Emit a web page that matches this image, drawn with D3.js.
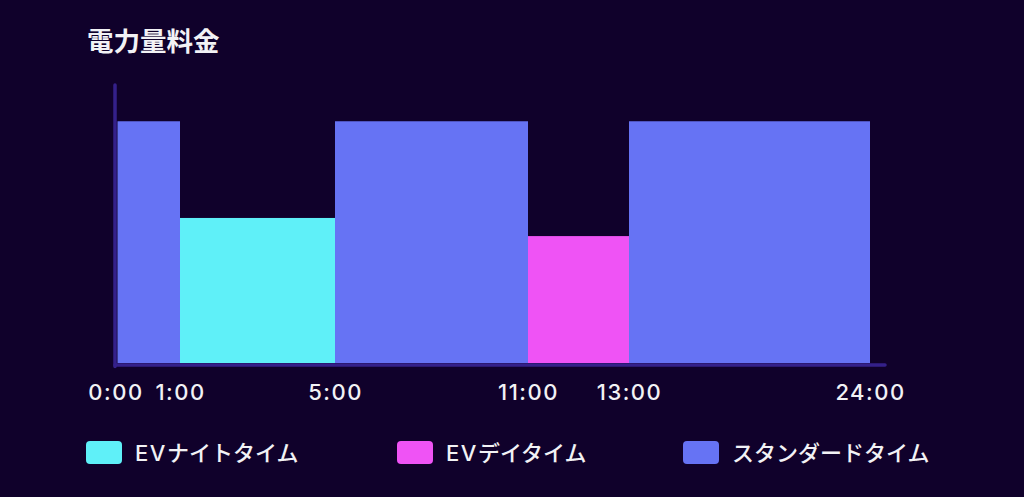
<!DOCTYPE html>
<html><head><meta charset="utf-8">
<script src="https://cdn.jsdelivr.net/npm/d3@7"></script>
<style>
html,body{margin:0;padding:0;background:#10012b;}
svg{display:block;}
</style></head>
<body>
<svg id="c" width="1024" height="497"></svg>
<script>
// ---- data ----
const title = "電力量料金";
const breakpoints = [0, 1, 5, 11, 13, 24];          // hours
const tickLabels = ["0:00", "1:00", "5:00", "11:00", "13:00", "24:00"];
const segStart = [0, 1, 5, 11, 13];
const segEnd   = [1, 5, 11, 13, 24];
const segType  = ["standard", "night", "standard", "day", "standard"];
const segValue = [100, 60, 100, 52.5, 100];        // relative price level
const legendKeys = ["night", "day", "standard"];
const legendPrefix = ["EV", "EV", ""];
const legendLabels = ["ナイトタイム", "デイタイム", "スタンダードタイム"];

// ---- styles ----
const colors = {night: "#5ff0f8", day: "#ef53f5", standard: "#6673f4"};
const bg = "#10012b";
const axisColor = "#34208a";

const svg = d3.select("#c");
svg.append("rect").attr("width", 1024).attr("height", 497).attr("fill", bg);

// piecewise time scale (the original axis is not linear in hours)
const x = d3.scaleLinear()
  .domain(breakpoints)
  .range([117.5, 180, 335, 528, 629, 870]);
const y = d3.scaleLinear().domain([0, 115]).range([363, 85]);

// title
svg.append("text")
  .attr("x", 87).attr("y", 51)
  .attr("font-family", "'Noto Sans CJK JP', sans-serif")
  .attr("font-weight", 700).attr("font-size", 26.5)
  .attr("fill", "#f2f2f5")
  .text(title);

// bars
const segs = segStart.map((s, i) => ({s, e: segEnd[i], t: segType[i], v: segValue[i]}));
svg.append("g").selectAll("rect").data(segs).join("rect")
  .attr("x", d => x(d.s))
  .attr("width", d => x(d.e) - x(d.s))
  .attr("y", d => y(d.v))
  .attr("height", d => y(0) - y(d.v))
  .attr("fill", d => colors[d.t]);

// axis lines
svg.append("line")
  .attr("x1", 115).attr("x2", 115).attr("y1", 85).attr("y2", 366.5)
  .attr("stroke", axisColor).attr("stroke-width", 3.5).attr("stroke-linecap", "round");
svg.append("line")
  .attr("x1", 115).attr("x2", 885).attr("y1", 365).attr("y2", 365)
  .attr("stroke", axisColor).attr("stroke-width", 3.5).attr("stroke-linecap", "round");

// x tick labels via d3 axis
const xAxis = d3.axisBottom(x)
  .tickValues(breakpoints)
  .tickFormat((d, i) => tickLabels[i])
  .tickSize(0).tickPadding(0);
const gx = svg.append("g").attr("transform", "translate(0,384)").call(xAxis);
gx.select(".domain").remove();
gx.selectAll("text")
  .attr("font-family", "Inter, 'Noto Sans', sans-serif")
  .attr("font-size", 22).attr("font-weight", 500)
  .attr("letter-spacing", 1.5)
  .attr("fill", "#f2f2f5")
  .attr("dy", "0.71em");
gx.selectAll("text").filter((d, i) => i === 0).attr("dx", -2);

// legend
const legX = [86, 397, 683];
const lg = svg.append("g").selectAll("g").data(legendKeys).join("g")
  .attr("transform", (d, i) => `translate(${legX[i]},441)`);
lg.append("rect").attr("width", 36).attr("height", 23).attr("rx", 4)
  .attr("fill", d => colors[d]);
const lt = lg.append("text").attr("x", 49).attr("y", 20)
  .attr("font-family", "'Noto Sans CJK JP', sans-serif")
  .attr("font-weight", 500).attr("font-size", 22)
  .attr("fill", "#f2f2f5");
lt.append("tspan")
  .attr("font-family", "Inter, 'Noto Sans', sans-serif")
  .attr("letter-spacing", 1.5)
  .text((d, i) => legendPrefix[i]);
lt.append("tspan").text((d, i) => legendLabels[i]);
</script>
</body></html>
